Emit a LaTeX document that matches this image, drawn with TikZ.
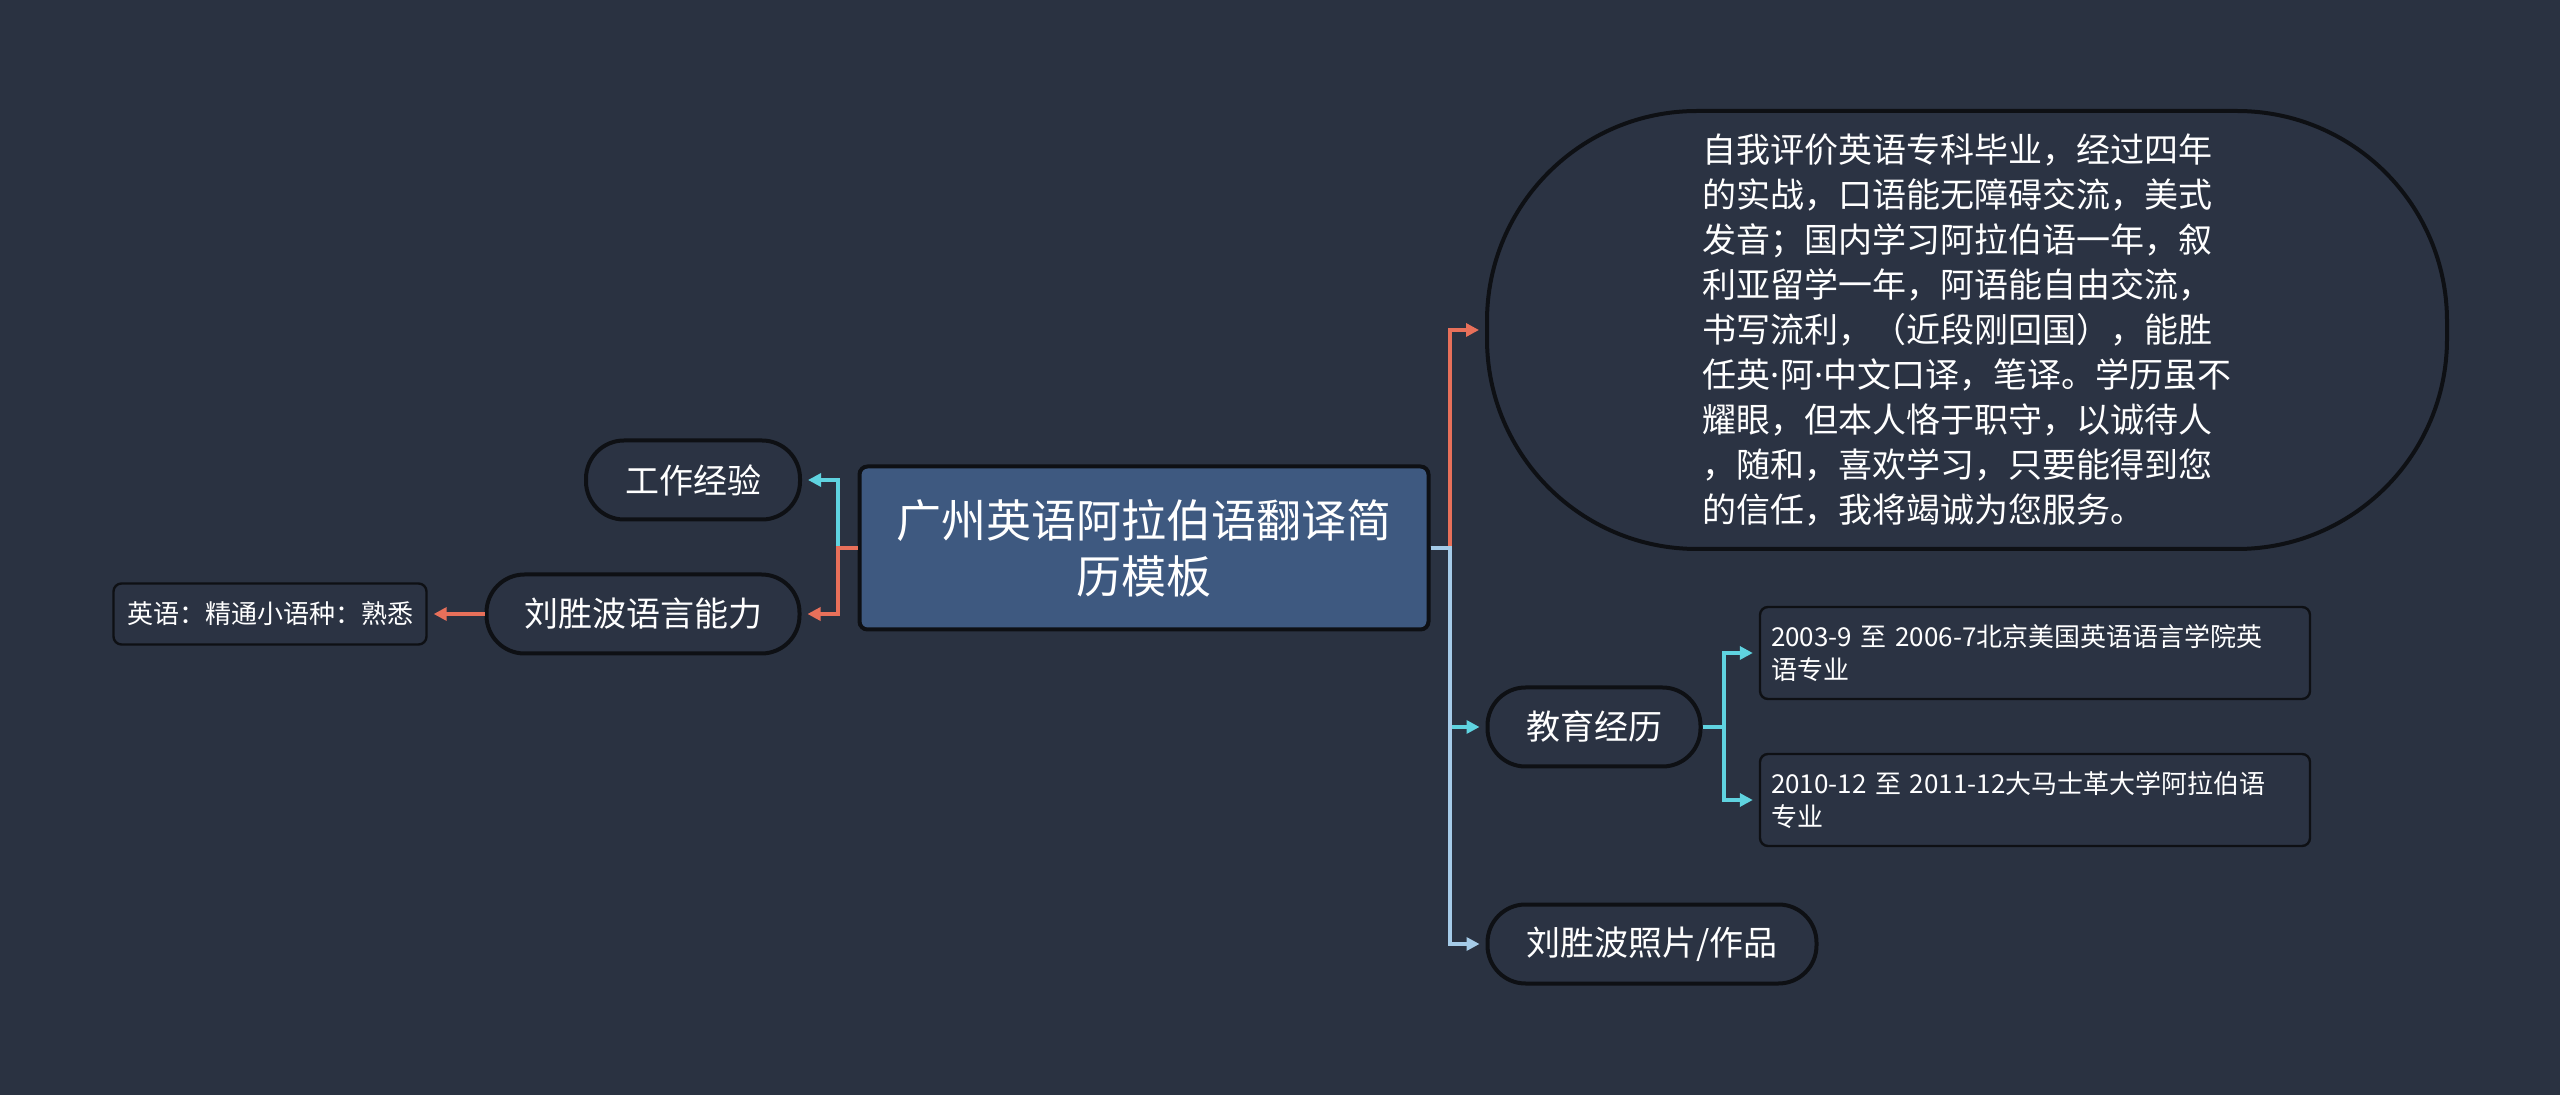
\documentclass[tikz,border=0pt]{standalone}
\usepackage{fontspec}
\setmainfont{Noto Sans CJK SC}
\newfontfamily\latinfont{Noto Sans}
\usetikzlibrary{arrows.meta}

\definecolor{bgcol}{RGB}{42,50,65}
\definecolor{nodecol}{RGB}{43,51,67}
\definecolor{rootcol}{RGB}{62,89,128}
\definecolor{edgecol}{RGB}{14,16,20}
\definecolor{orangecol}{RGB}{232,112,90}
\definecolor{cyancol}{RGB}{95,211,224}
\definecolor{bluecol}{RGB}{165,203,232}

\begin{document}
\begin{tikzpicture}[x=0.5pt,y=0.5pt,yscale=-1,xscale=1,
    topic/.style={draw=edgecol,line width=2pt,fill=nodecol,text=white,inner sep=0pt,align=center},
    pill/.style={topic,rounded corners=19pt,minimum height=39.5pt,font=\fontsize{17}{20}\selectfont},
    leaf/.style={topic,rounded corners=4pt,line width=1.2pt,font=\fontsize{13}{16.5}\selectfont},
    link/.style={line width=2pt,-{Triangle[length=6.5pt,width=6.5pt]},shorten >=3pt}]
        %set diagram size 2560 x 1095
        \fill [bgcol] (0,0) rectangle (2560,1095);
        \useasboundingbox (0,0) rectangle (2560,1095);

        %Shape: Root [id:root]
        \draw (1144,548) node [topic,fill=rootcol,rounded corners=4pt,minimum width=284.5pt,minimum height=81.5pt,font=\fontsize{22.5}{27.8}\selectfont] (root) {广州英语阿拉伯语翻译简\\历模板};

        %Shape: Left topics
        \draw (693,480) node [pill,minimum width=107pt] (work) {工作经验};
        \draw (643,614) node [pill,minimum width=156.5pt] (skill) {刘胜波语言能力};
        % Text Node
        \draw (270,614) node [leaf,minimum width=156.5pt,minimum height=30.5pt] (eng) {英语：精通小语种：熟悉};

        %Shape: Right topics
        \draw (1967,330) node [topic,rounded corners=105pt,minimum width=480pt,minimum height=219pt,align=left,font=\fontsize{17}{22.5}\selectfont] (self) {自我评价英语专科毕业，经过四年\\的实战，口语能无障碍交流，美式\\发音；国内学习阿拉伯语一年，叙\\利亚留学一年，阿语能自由交流，\\书写流利，（近段刚回国），能胜\\任英{\latinfont ·}阿{\latinfont ·}中文口译，笔译。学历虽不\\耀眼，但本人恪于职守，以诚待人\\，随和，喜欢学习，只要能得到您\\的信任，我将竭诚为您服务。};
        \draw (1594,727) node [pill,minimum width=106.5pt] (edu) {教育经历};
        \draw (1652,944) node [pill,minimum width=164.5pt] (photo) {刘胜波照片/作品};
        % Text Node
        \draw (2035,653) node [leaf,minimum width=275pt,minimum height=46pt,text width=264pt,align=left] (eduA) {2003-9 至 2006-7北京美国英语语言学院英\\语专业};
        % Text Node
        \draw (2035,800) node [leaf,minimum width=275pt,minimum height=46pt,text width=264pt,align=left] (eduB) {2010-12 至 2011-12大马士革大学阿拉伯语\\专业};

        %Straight Lines: elbow points
        \coordinate (lt) at (838,548);
        \coordinate (rt) at (1450,548);
        \coordinate (et) at (1724,727);

        %Straight Lines: left branches
        \draw [link,cyancol] (root.west) -- (lt) |- (work.east);
        \draw [link,orangecol] (root.west) -- (lt) |- (skill.east);
        \draw [link,orangecol] (skill.west) -- (eng.east);

        %Straight Lines: right branches
        \draw [link,orangecol] (root.east) -- (rt) |- (self.west);
        \draw [link,cyancol] (root.east) -- (rt) |- (edu.west);
        \draw [link,bluecol] (root.east) -- (rt) |- (photo.west);
        \draw [link,cyancol] (edu.east) -- (et) |- (eduA.west);
        \draw [link,cyancol] (edu.east) -- (et) |- (eduB.west);
    \end{tikzpicture}
\end{document}
